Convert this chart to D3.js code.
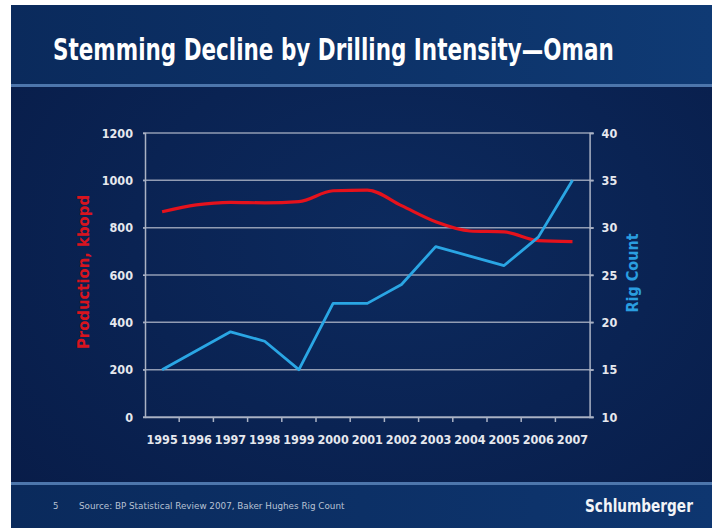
<!DOCTYPE html>
<html>
<head>
<meta charset="utf-8">
<script src="https://cdn.jsdelivr.net/npm/d3@7"></script>
<style>
  html, body { margin: 0; padding: 0; background: #ffffff; }
  svg { display: block; }
</style>
</head>
<body>
<svg id="chart" width="716" height="528"></svg>
<script>
// Oman oil production (kbopd) and active rig count, 1995–2007
const years = ["1995","1996","1997","1998","1999","2000","2001","2002","2003","2004","2005","2006","2007"];
const production = [867, 896, 907, 905, 910, 956, 959, 893, 825, 786, 782, 745, 741];
const rigCount = [15, 17, 19, 18, 15, 22, 22, 24, 28, 27, 26, 29, 35];
const productionTicks = [0, 200, 400, 600, 800, 1000, 1200];
const rigTicks = [10, 15, 20, 25, 30, 35, 40];

const W = 716, H = 528;
const svg = d3.select("#chart");
const narrow = "'Liberation Sans Narrow', 'Arial Narrow', 'DejaVu Sans Condensed', 'Liberation Sans', sans-serif";

// Scale a text horizontally so it spans the given width, anchored at its x
function fitWidth(sel, width) {
  const natural = sel.node().getComputedTextLength();
  const x0 = +sel.attr("x"), y0 = +sel.attr("y");
  const k = width / natural;
  sel.attr("x", 0).attr("y", 0)
     .attr("transform", `translate(${x0},${y0}) scale(${k},1)`);
  return sel;
}

// ---- slide background ----
const defs = svg.append("defs");
const gTitle = defs.append("linearGradient").attr("id", "gTitle").attr("x1", 0).attr("x2", 1).attr("y1", 0).attr("y2", 0);
gTitle.append("stop").attr("offset", 0).attr("stop-color", "#0a2a5c");
gTitle.append("stop").attr("offset", 1).attr("stop-color", "#0f3a74");
const gBody = defs.append("radialGradient").attr("id", "gBody").attr("cx", 0.55).attr("cy", 0.45).attr("r", 0.75);
gBody.append("stop").attr("offset", 0).attr("stop-color", "#0c2a5e");
gBody.append("stop").attr("offset", 1).attr("stop-color", "#081c48");
const gFoot = defs.append("linearGradient").attr("id", "gFoot").attr("x1", 0).attr("x2", 1).attr("y1", 0).attr("y2", 0);
gFoot.append("stop").attr("offset", 0).attr("stop-color", "#0a2a5c");
gFoot.append("stop").attr("offset", 1).attr("stop-color", "#0e3670");

const slideX = 11, slideY = 5, slideR = 712;
svg.append("rect").attr("x", slideX).attr("y", slideY).attr("width", slideR - slideX).attr("height", H - slideY).attr("fill", "url(#gBody)");
svg.append("rect").attr("x", slideX).attr("y", slideY).attr("width", slideR - slideX).attr("height", 79).attr("fill", "url(#gTitle)");
svg.append("rect").attr("x", slideX).attr("y", 84).attr("width", slideR - slideX).attr("height", 3).attr("fill", "#4d76ac");
svg.append("rect").attr("x", slideX).attr("y", 485).attr("width", slideR - slideX).attr("height", H - 485).attr("fill", "url(#gFoot)");
svg.append("rect").attr("x", slideX).attr("y", 482).attr("width", slideR - slideX).attr("height", 3).attr("fill", "#4d76ac");

// ---- title ----
fitWidth(svg.append("text")
  .attr("x", 53).attr("y", 60)
  .attr("font-family", narrow).attr("font-weight", "bold").attr("font-size", 30)
  .attr("fill", "#ffffff")
  .text("Stemming Decline by Drilling Intensity\u2014Oman"), 561);

// ---- scales ----
const plotLeft = 145, plotRight = 589.6, plotTop = 133, plotBottom = 417;
const x = d3.scaleBand().domain(years).range([plotLeft, plotRight]);
const yL = d3.scaleLinear().domain([0, 1200]).range([plotBottom, plotTop]);
const yR = d3.scaleLinear().domain([10, 40]).range([plotBottom, plotTop]);

const gridColor = "#aab2c4";
const labelColor = "#e6e8ee";

// horizontal gridlines
svg.append("g").selectAll("line").data(productionTicks).join("line")
  .attr("x1", plotLeft - 2).attr("x2", plotRight + 4)
  .attr("y1", d => yL(d)).attr("y2", d => yL(d))
  .attr("stroke", gridColor).attr("stroke-width", 1.5).attr("opacity", 0.85);

// left axis
const axL = svg.append("g").attr("transform", `translate(${plotLeft},0)`)
  .call(d3.axisLeft(yL).tickValues(productionTicks).tickFormat(d3.format("d")).tickSize(2).tickPadding(10));
axL.select(".domain").attr("stroke", gridColor).attr("stroke-width", 1.5);
axL.selectAll(".tick line").attr("stroke", gridColor);
axL.selectAll(".tick text").attr("fill", labelColor).attr("font-family", narrow)
  .attr("font-weight", "bold").attr("font-size", 12.5);

// right axis
const axR = svg.append("g").attr("transform", `translate(${plotRight},0)`)
  .call(d3.axisRight(yR).tickValues(rigTicks).tickFormat(d3.format("d")).tickSize(4).tickPadding(8));
axR.select(".domain").attr("stroke", gridColor).attr("stroke-width", 1.5);
axR.selectAll(".tick line").attr("stroke", gridColor).attr("stroke-width", 1.5);
axR.selectAll(".tick text").attr("fill", labelColor).attr("font-family", narrow)
  .attr("font-weight", "bold").attr("font-size", 12.5);

// bottom axis: labels centred on bands, tick marks on band boundaries
const axB = svg.append("g").attr("transform", `translate(0,${plotBottom})`)
  .call(d3.axisBottom(x).tickSize(0).tickPadding(18));
axB.select(".domain").attr("stroke", gridColor).attr("stroke-width", 1.5);
axB.selectAll(".tick text").attr("fill", labelColor).attr("font-family", narrow)
  .attr("font-weight", "bold").attr("font-size", 12.5);
axB.append("g").selectAll("line").data(years.slice(1)).join("line")
  .attr("x1", d => x(d)).attr("x2", d => x(d))
  .attr("y1", 0).attr("y2", 5)
  .attr("stroke", gridColor).attr("stroke-width", 1.5);

// ---- series ----
const cx = d => x(d) + x.bandwidth() / 2;
const prodLine = d3.line().x((d, i) => cx(years[i])).y(d => yL(d)).curve(d3.curveMonotoneX);
const rigLine = d3.line().x((d, i) => cx(years[i])).y(d => yR(d));

svg.append("path").datum(production).attr("d", prodLine)
  .attr("fill", "none").attr("stroke", "#e5121c").attr("stroke-width", 3.2)
  .attr("stroke-linejoin", "round");
svg.append("path").datum(rigCount).attr("d", rigLine)
  .attr("fill", "none").attr("stroke", "#2aa6e4").attr("stroke-width", 2.8)
  .attr("stroke-linejoin", "round");

// ---- axis titles ----
svg.append("text")
  .attr("transform", "translate(89,272) rotate(-90)")
  .attr("text-anchor", "middle")
  .attr("font-family", narrow).attr("font-weight", "bold").attr("font-size", 16.5)
  .attr("fill", "#d8141e")
  .text("Production, kbopd");
svg.append("text")
  .attr("transform", "translate(638,273) rotate(-90)")
  .attr("text-anchor", "middle")
  .attr("font-family", narrow).attr("font-weight", "bold").attr("font-size", 16)
  .attr("fill", "#2a9ee0")
  .text("Rig Count");

// ---- footer ----
svg.append("text").attr("x", 53).attr("y", 509)
  .attr("font-family", narrow).attr("font-size", 9.5).attr("fill", "#b8c2d4")
  .text("5");
fitWidth(svg.append("text").attr("x", 79).attr("y", 509)
  .attr("font-family", narrow).attr("font-size", 9.5).attr("fill", "#b8c2d4")
  .text("Source: BP Statistical Review 2007, Baker Hughes Rig Count"), 266);
fitWidth(svg.append("text").attr("x", 585).attr("y", 512)
  .attr("font-family", narrow).attr("font-weight", "bold").attr("font-size", 18)
  .attr("fill", "#f2f4f8")
  .text("Schlumberger"), 108);
</script>
</body>
</html>
